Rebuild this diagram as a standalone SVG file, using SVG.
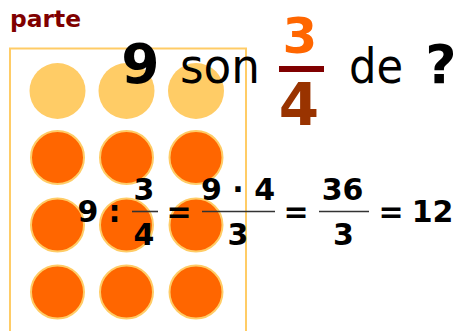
<svg xmlns="http://www.w3.org/2000/svg" width="460" height="331" viewBox="0 0 460 331">
<style>
.b{font-family:"DejaVu Sans",Verdana,sans-serif;font-weight:bold}
.r{font-family:"DejaVu Sans",Verdana,sans-serif}
.c{fill:#FF6600;stroke:#FFCC66;stroke-width:2}
.l{fill:#FFCC66}
.eq{font-size:30px;fill:#000;text-anchor:middle}
.bar{stroke:#333;stroke-width:1.6}
</style>
<rect width="460" height="331" fill="#fff"/>
<g id="label"><text class="b" x="10" y="27" font-size="23" fill="#800000" textLength="71" lengthAdjust="spacingAndGlyphs">parte</text></g>
<g id="box"><rect x="10" y="48.5" width="236" height="300" fill="none" stroke="#FFCC66" stroke-width="2"/></g>
<g id="dots">
<circle class="l" cx="57.5" cy="91" r="28"/>
<circle class="l" cx="126.5" cy="91" r="28"/>
<circle class="l" cx="196" cy="91" r="28"/>
<circle class="c" cx="57.5" cy="157.5" r="26.5"/>
<circle class="c" cx="126.5" cy="157.5" r="26.5"/>
<circle class="c" cx="196" cy="157.5" r="26.5"/>
<circle class="c" cx="57.5" cy="225" r="26.5"/>
<circle class="c" cx="126.5" cy="225" r="26.5"/>
<circle class="c" cx="196" cy="225" r="26.5"/>
<circle class="c" cx="57.5" cy="292" r="26.5"/>
<circle class="c" cx="126.5" cy="292" r="26.5"/>
<circle class="c" cx="196" cy="292" r="26.5"/>
</g>
<g id="title">
<text class="b" x="140.5" y="83" font-size="55" text-anchor="middle" fill="#000">9</text>
<text class="r" x="180" y="83" font-size="48" fill="#000" textLength="80" lengthAdjust="spacingAndGlyphs">son</text>
<text class="b" x="300" y="53" font-size="50" text-anchor="middle" fill="#FF6600">3</text>
<rect x="279" y="66" width="45" height="6" fill="#800000"/>
<text class="b" x="299" y="125" font-size="58" text-anchor="middle" fill="#993300">4</text>
<text class="r" x="349" y="83" font-size="48" fill="#000" textLength="54" lengthAdjust="spacingAndGlyphs">de</text>
<text class="b" x="441" y="83" font-size="54" text-anchor="middle" fill="#000">?</text>
</g>
<g id="equation">
<text class="b eq" x="88" y="222">9</text>
<text class="b eq" x="114.5" y="222">:</text>
<text class="b eq" x="144" y="200">3</text>
<line class="bar" x1="132" y1="211.5" x2="158" y2="211.5"/>
<text class="b eq" x="144" y="245">4</text>
<text class="b eq" x="179" y="222">=</text>
<text class="b eq" x="238" y="200">9 · 4</text>
<line class="bar" x1="202" y1="211.5" x2="275" y2="211.5"/>
<text class="b eq" x="238" y="245">3</text>
<text class="b eq" x="296" y="222">=</text>
<text class="b eq" x="342.5" y="200">36</text>
<line class="bar" x1="319" y1="211.5" x2="369" y2="211.5"/>
<text class="b eq" x="343.5" y="245">3</text>
<text class="b eq" x="391" y="222">=</text>
<text class="b eq" x="432.5" y="222">12</text>
</g>
</svg>
